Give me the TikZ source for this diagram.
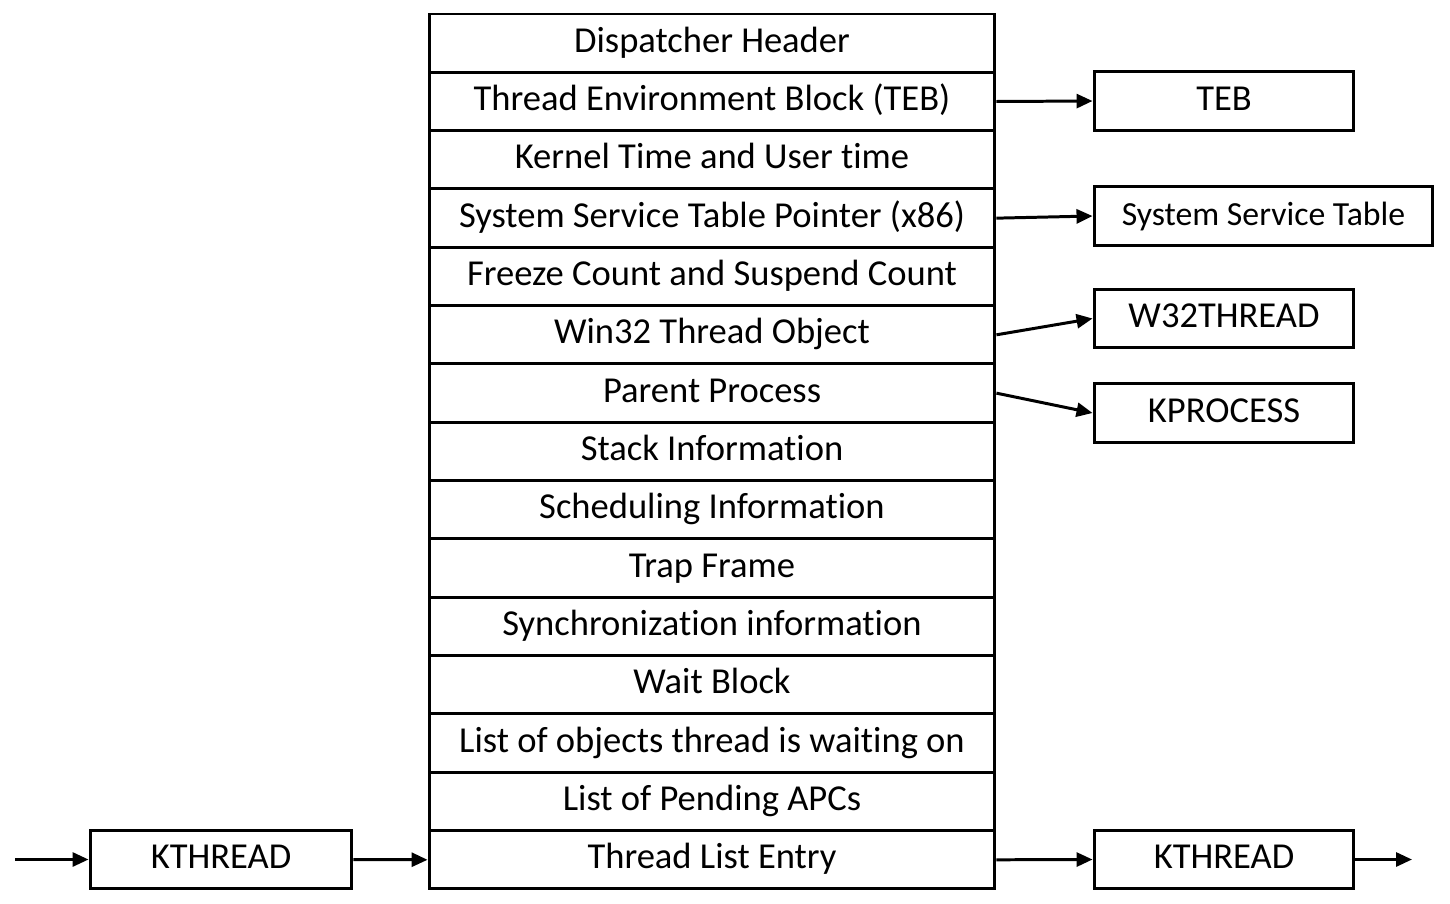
\documentclass[tikz,border=0pt]{standalone}
\usepackage{fontspec}
\setmainfont{Carlito}[Ligatures={NoCommon}]
\usepackage{tikz}
\usetikzlibrary{arrows.meta,positioning}

\begin{document}
\begin{tikzpicture}[x=0.02cm,y=-0.02cm,
  every node/.style={font=\fontsize{20.8}{22}\selectfont,inner sep=0pt,text height=0.48cm,text depth=0.12cm},
  field/.style={draw,line width=1.7pt,minimum width=11.32cm,minimum height=1.1667cm},
  sidebox/.style={draw,line width=1.7pt,minimum width=5.2cm,minimum height=1.17cm},
  link/.style={line width=1.7pt,-{Triangle[length=0.32cm,width=0.28cm]}}]
  \useasboundingbox (0,0) rectangle (1450,903);
  % KTHREAD fields, one row each
  \foreach \name [count=\i] in {Dispatcher Header,Thread Environment Block (TEB),
      Kernel Time and User time,System Service Table Pointer (x86),
      Freeze Count and Suspend Count,Win32 Thread Object,Parent Process,
      Stack Information,Scheduling Information,Trap Frame,
      Synchronization information,Wait Block,List of objects thread is waiting on,
      List of Pending APCs,Thread List Entry}
    \node[field] (f\i) at (712,{14+58.33*(\i-0.5)}) {\name};
  % Referenced structures
  \node[sidebox] (teb) at (1224,101) {TEB};
  \node[sidebox,minimum width=6.78cm,font=\fontsize{19.2}{21}\selectfont] (sst) at (1263.5,216) {System Service Table};
  \node[sidebox] (w32) at (1224,318.5) {W32THREAD};
  \node[sidebox] (kproc) at (1224,413) {KPROCESS};
  % Thread list neighbours
  \node[sidebox,minimum width=5.24cm] (prev) at (221,859.5) {KTHREAD};
  \node[sidebox] (next) at (1224,859.5) {KTHREAD};
  \coordinate (in) at (15,859.5);
  \coordinate (out) at (1412,859.5);
  \draw[link] (f2.east) -- (teb.west);
  \draw[link] (f4.east) -- (sst.west);
  \draw[link] (f6.east) -- (w32.west);
  \draw[link] (f7.east) -- (kproc.west);
  \draw[link] (in) -- (prev.west);
  \draw[link] (prev.east) -- (f15.west);
  \draw[link] (f15.east) -- (next.west);
  \draw[link] (next.east) -- (out);
\end{tikzpicture}
\end{document}
